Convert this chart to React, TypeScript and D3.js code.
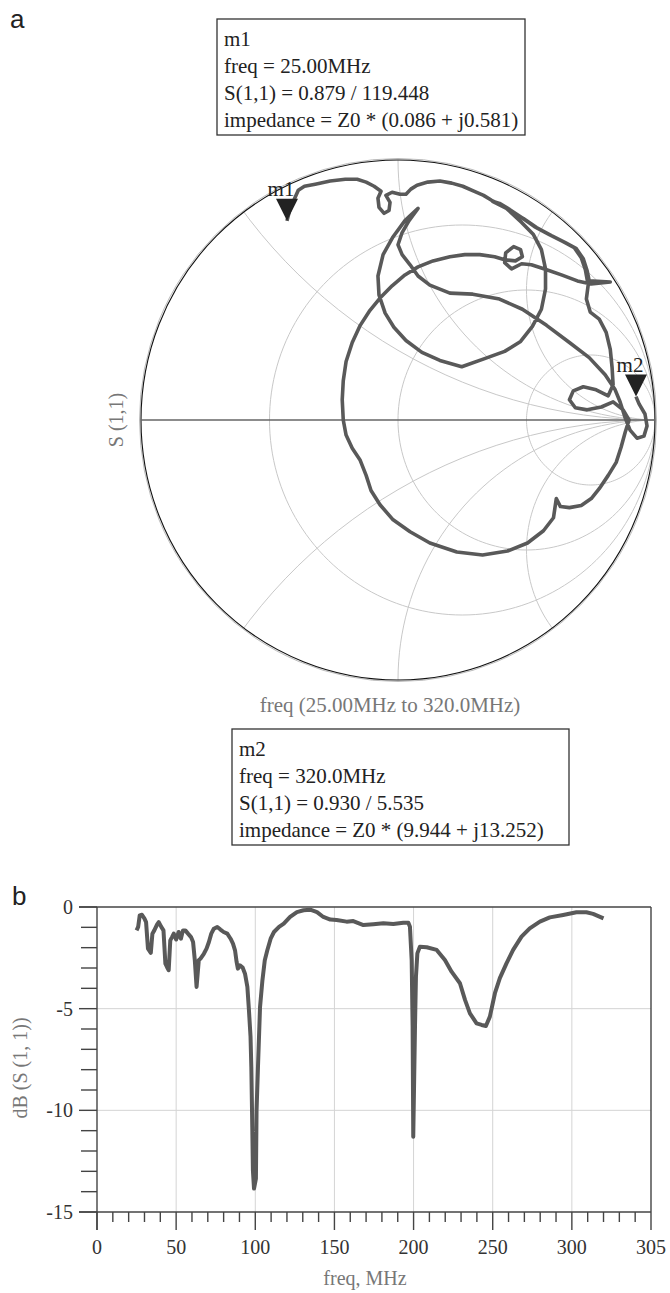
import React from "react";
import * as d3 from "d3";

// ---------- Smith chart data (reflection coefficient, real / imag) ----------
const smithRe = [
  -0.432, -0.4225, -0.407, -0.388, -0.364, -0.322, -0.264, -0.205, -0.159, -0.124,
  -0.093, -0.066, -0.078, -0.074, -0.054, -0.035, -0.031, -0.047, -0.023, 0.008,
  0.031, 0.05, 0.074, 0.116, 0.163, 0.209, 0.252, 0.295, 0.333, 0.364,
  0.403, 0.442, 0.488, 0.539, 0.597, 0.651, 0.694, 0.721, 0.736, 0.744,
  0.826, 0.752, 0.698, 0.636, 0.57, 0.519, 0.481, 0.442, 0.415, 0.419,
  0.45, 0.477, 0.484, 0.457, 0.415, 0.376, 0.318, 0.26, 0.202, 0.136,
  0.078, 0.027, -0.023, -0.07, -0.109, -0.147, -0.178, -0.202, -0.213, -0.217,
  -0.213, -0.202, -0.178, -0.147, -0.124, -0.105, -0.07, -0.019, 0.047, 0.124,
  0.229, 0.329, 0.426, 0.504, 0.566, 0.605, 0.616, 0.632, 0.667, 0.713,
  0.752, 0.783, 0.818, 0.849, 0.868, 0.884, 0.899, 0.876, 0.837, 0.791,
  0.736, 0.69, 0.667, 0.682, 0.721, 0.771, 0.818, 0.837, 0.833, 0.826,
  0.81, 0.783, 0.748, 0.733, 0.74, 0.729, 0.713, 0.686, 0.643, 0.589,
  0.531, 0.481, 0.434, 0.395, 0.368,
  0.422, 0.481, 0.527, 0.558, 0.574, 0.574, 0.558, 0.523, 0.477, 0.415,
  0.337, 0.248, 0.163, 0.093, 0.031, -0.016, -0.05, -0.074, -0.078, -0.058,
  -0.019, 0.027, 0.078,
  0.043, 0.016, 0.0, 0.016, 0.047, 0.078, 0.124, 0.202, 0.291, 0.395,
  0.484, 0.578, 0.667, 0.744, 0.806, 0.845, 0.864, 0.884, 0.903, 0.93,
  0.957, 0.969, 0.961, 0.938, 0.926,
];
const smithIm = [
  0.766, 0.8023, 0.841, 0.884, 0.899, 0.907, 0.919, 0.926, 0.926, 0.915,
  0.899, 0.88, 0.853, 0.818, 0.795, 0.806, 0.837, 0.864, 0.876, 0.868,
  0.868, 0.888, 0.903, 0.915, 0.919, 0.911, 0.899, 0.88, 0.864, 0.845,
  0.826, 0.802, 0.775, 0.74, 0.709, 0.682, 0.659, 0.62, 0.574, 0.535,
  0.531, 0.523, 0.535, 0.558, 0.581, 0.597, 0.601, 0.581, 0.605, 0.643,
  0.667, 0.655, 0.628, 0.612, 0.616, 0.628, 0.636, 0.636, 0.628, 0.612,
  0.589, 0.558, 0.516, 0.469, 0.422, 0.364, 0.298, 0.225, 0.151, 0.078,
  0.0, -0.058, -0.109, -0.155, -0.213, -0.271, -0.326, -0.384, -0.43, -0.473,
  -0.508, -0.519, -0.504, -0.473, -0.426, -0.376, -0.302, -0.333, -0.337, -0.329,
  -0.302, -0.264, -0.213, -0.163, -0.105, -0.047, 0.0, 0.039, 0.07, 0.05,
  0.039, 0.047, 0.078, 0.112, 0.128, 0.116, 0.093, 0.136, 0.202, 0.271,
  0.337, 0.388, 0.415, 0.465, 0.519, 0.578, 0.624, 0.663, 0.686, 0.713,
  0.744, 0.779, 0.81, 0.833, 0.841,
  0.814, 0.76, 0.713, 0.655, 0.581, 0.504, 0.426, 0.36, 0.302, 0.264,
  0.236, 0.205, 0.229, 0.26, 0.306, 0.357, 0.411, 0.481, 0.554, 0.636,
  0.705, 0.767, 0.814,
  0.767, 0.721, 0.674, 0.636, 0.597, 0.554, 0.519, 0.488, 0.484, 0.465,
  0.426, 0.364, 0.298, 0.24, 0.174, 0.116, 0.07, 0.008, -0.039, -0.07,
  -0.062, -0.023, 0.023, 0.062, 0.09,
];

const markerNames = ["m1", "m2"];
const markerRe = [-0.432, 0.926];
const markerIm = [0.766, 0.09];
const m1Lines = ["m1", "freq = 25.00MHz", "S(1,1) = 0.879 / 119.448", "impedance = Z0 * (0.086 + j0.581)"];
const m2Lines = ["m2", "freq = 320.0MHz", "S(1,1) = 0.930 / 5.535", "impedance = Z0 * (9.944 + j13.252)"];
const resistanceCircles = [1 / 3, 1, 3];
const reactanceArcs = [0.5, 1, 2, -0.5, -1, -2];

// ---------- dB(S(1,1)) data ----------
const dbFreq = [
  25, 26, 27, 28.4, 30, 31, 32.2, 34, 35, 36.2, 38, 39, 40.6, 42, 43.2, 44.2, 45.3, 46.3, 47.4, 48.5,
  50, 51.6, 53, 54.3, 55.8, 57.5, 59.4, 60.7, 61.8, 62.9, 64.3, 65.4, 67.5, 69.2, 70.7, 72.2, 73.8, 76, 78, 80,
  82.3, 84.4, 85.9, 87.2, 88.2, 89, 90.3, 92, 93.5, 95, 96, 97, 97.5, 98.1, 98.5, 99.2, 100.4, 100.8, 101.7, 103,
  104.5, 106, 107.6, 109.7, 111.8, 115, 118, 122, 126.3, 130.5, 134.7, 139, 143, 147.4, 151.4, 157.7, 161.9, 168.3, 174.6, 180.9,
  187.2, 193.5, 196.7, 197.7, 198.8, 199.4, 199.8, 200.9, 201.5, 202.4, 204, 208.3, 214.6, 219.8, 224, 229.3, 232.5, 235.6, 239.8, 243,
  245.7, 248.2, 251.4, 254.5, 258.7, 262.9, 268.2, 273.4, 279.8, 286.1, 294.5, 302.9, 309.2, 313.4, 320,
];
const dbValue = [
  -1.15, -0.98, -0.41, -0.38, -0.57, -0.74, -2.05, -2.26, -1.31, -1.15, -0.85, -0.74, -0.98, -1.15, -2.79, -2.95, -3.11, -1.64, -1.48, -1.31,
  -1.6, -1.23, -1.56, -1.15, -1.15, -1.31, -1.48, -1.72, -2.62, -3.93, -2.62, -2.54, -2.3, -2.05, -1.72, -1.31, -1.07, -0.98, -1.11, -1.23,
  -1.31, -1.56, -1.8, -2.13, -2.7, -3.03, -2.87, -2.98, -3.28, -3.93, -5.08, -6.39, -7.87, -10.8, -12.95, -13.85, -13.36, -10.0, -7.87, -4.92,
  -3.61, -2.62, -2.13, -1.56, -1.23, -0.98, -0.82, -0.49, -0.25, -0.16, -0.13, -0.25, -0.49, -0.62, -0.64, -0.72, -0.69, -0.89, -0.85, -0.8,
  -0.84, -0.77, -0.77, -0.97, -2.61, -5.89, -11.3, -5.89, -3.43, -2.28, -1.95, -1.98, -2.11, -2.61, -3.18, -3.75, -4.57, -5.23, -5.72, -5.8,
  -5.85, -5.39, -4.24, -3.5, -2.77, -2.11, -1.46, -1.05, -0.72, -0.51, -0.39, -0.26, -0.26, -0.34, -0.56,
];
const xTickValues = [0, 50, 100, 150, 200, 250, 300, 350];
const xTickLabels = ["0", "50", "100", "150", "200", "250", "300", "305"];
const yTickValues = [0, -5, -10, -15];
const yTickLabels = ["0", "-5", "-10", "-15"];

const SERIF = "'Liberation Serif', 'Times New Roman', serif";
const SANS = "'Liberation Sans', Arial, sans-serif";
const TRACE = "#595959";

export default function App() {
  // Smith chart scales
  const cx = 398, cy = 420, Rx = 257, Ry = 260;
  const sx = d3.scaleLinear().domain([-1, 1]).range([cx - Rx, cx + Rx]);
  const sy = d3.scaleLinear().domain([-1, 1]).range([cy + Ry, cy - Ry]);
  const circlePath = (c0: number, c1: number, rad: number) => {
    const pts = d3.range(0, 361, 2).map((a) => {
      const t = (a * Math.PI) / 180;
      return [sx(c0 + rad * Math.cos(t)), sy(c1 + rad * Math.sin(t))] as [number, number];
    });
    return d3.line()(pts) as string;
  };
  const tracePts = smithRe.map((r, i) => [sx(r), sy(smithIm[i])] as [number, number]);
  const tracePath = d3.line()(tracePts) as string;

  // dB chart scales
  const bx = d3.scaleLinear().domain([0, 350]).range([97, 651]);
  const by = d3.scaleLinear().domain([-15, 0]).range([1212, 907]);
  const dbPath = d3.line<number>().x((f) => bx(f)).y((_, i) => by(dbValue[i]))(dbFreq) as string;
  const xMinor = d3.range(0, 351, 10);
  const yMinor = d3.range(-15, 1, 1);

  const box = (lines: string[], x: number, y: number, w: number, h: number) => (
    <g>
      <rect x={x} y={y} width={w} height={h} fill="white" stroke="#333" strokeWidth={1.3} />
      {lines.map((t, i) => (
        <text key={i} x={x + 7} y={y + 27 + i * 27} fontFamily={SERIF} fontSize={21} fill="#222">
          {t}
        </text>
      ))}
    </g>
  );

  return (
    <svg width={670} height={1293} style={{ position: "absolute", left: 0, top: 0, background: "white" }}>
      <defs>
        <clipPath id="unit">
          <ellipse cx={cx} cy={cy} rx={Rx} ry={Ry} />
        </clipPath>
      </defs>
      <text x={10} y={28} fontFamily={SANS} fontSize={26} fill="#222">a</text>
      {box(m1Lines, 217, 19, 308, 116)}

      {/* Smith grid */}
      <g clipPath="url(#unit)" fill="none" stroke="#c8c8c8" strokeWidth={1}>
        {resistanceCircles.map((r) => (
          <path key={"r" + r} d={circlePath(r / (1 + r), 0, 1 / (1 + r))} />
        ))}
        {reactanceArcs.map((x) => (
          <path key={"x" + x} d={circlePath(1, 1 / x, 1 / Math.abs(x))} />
        ))}
      </g>
      <ellipse cx={cx} cy={cy} rx={Rx + 1.5} ry={Ry + 1.5} fill="none" stroke="#bbb" strokeWidth={1} />
      <ellipse cx={cx} cy={cy} rx={Rx} ry={Ry} fill="none" stroke="#111" strokeWidth={1.1} />
      <line x1={sx(-1)} x2={sx(1)} y1={sy(0)} y2={sy(0)} stroke="#666" strokeWidth={1.3} />

      <path d={tracePath} fill="none" stroke={TRACE} strokeWidth={3.6} strokeLinejoin="round" />

      {markerNames.map((m, i) => {
        const tx = sx(markerRe[i]);
        const ty = sy(markerIm[i]);
        return (
          <g key={m}>
            <path d={`M${tx},${ty} L${tx - 11},${ty - 22} L${tx + 11},${ty - 22} Z`} fill="#222" />
            <text x={tx - 6} y={ty - 25} textAnchor="middle" fontFamily={SERIF} fontSize={21} fill="#222">
              {m}
            </text>
          </g>
        );
      })}

      <text transform={`translate(123,${cy}) rotate(-90)`} textAnchor="middle" fontFamily={SERIF} fontSize={20} fill="#777">
        S (1,1)
      </text>
      <text x={390} y={712} textAnchor="middle" fontFamily={SERIF} fontSize={21} fill="#777">
        freq (25.00MHz to 320.0MHz)
      </text>
      {box(m2Lines, 232, 729, 337, 116)}

      {/* dB chart */}
      <text x={12} y={905} fontFamily={SANS} fontSize={26} fill="#222">b</text>
      <g stroke="#d4d4d4" strokeWidth={1}>
        {xTickValues.slice(1, -1).map((v) => (
          <line key={"gx" + v} x1={bx(v)} x2={bx(v)} y1={by(0)} y2={by(-15)} />
        ))}
        {[-5, -10].map((v) => (
          <line key={"gy" + v} x1={bx(0)} x2={bx(350)} y1={by(v)} y2={by(v)} />
        ))}
      </g>
      <g stroke="#444" strokeWidth={1.4}>
        <line x1={79} x2={bx(350)} y1={by(0)} y2={by(0)} />
        <line x1={bx(350)} x2={bx(350)} y1={by(0)} y2={by(-15)} />
        <line x1={79} x2={bx(350)} y1={by(-15)} y2={by(-15)} />
        <line x1={bx(0)} x2={bx(0)} y1={by(0)} y2={1230} />
        {xMinor.map((v) => (
          <line key={"tx" + v} x1={bx(v)} x2={bx(v)} y1={by(-15)} y2={v % 50 === 0 ? 1230 : 1222} />
        ))}
        {yMinor.map((v) => (
          <line key={"ty" + v} x1={v % 5 === 0 ? 79 : 81} x2={bx(0)} y1={by(v)} y2={by(v)} />
        ))}
      </g>
      {yTickValues.map((v, i) => (
        <text key={"yl" + v} x={73} y={by(v) + 7} textAnchor="end" fontFamily={SERIF} fontSize={20} fill="#333">
          {yTickLabels[i]}
        </text>
      ))}
      {xTickValues.map((v, i) => (
        <text key={"xl" + v} x={bx(v)} y={1254} textAnchor="middle" fontFamily={SERIF} fontSize={20} fill="#333">
          {xTickLabels[i]}
        </text>
      ))}
      <text x={365} y={1285} textAnchor="middle" fontFamily={SERIF} fontSize={20} fill="#777">
        freq, MHz
      </text>
      <text transform={`translate(27,1068) rotate(-90)`} textAnchor="middle" fontFamily={SERIF} fontSize={20} fill="#777">
        dB (S (1, 1))
      </text>
      <path d={dbPath} fill="none" stroke={TRACE} strokeWidth={4} strokeLinejoin="round" />
    </svg>
  );
}
